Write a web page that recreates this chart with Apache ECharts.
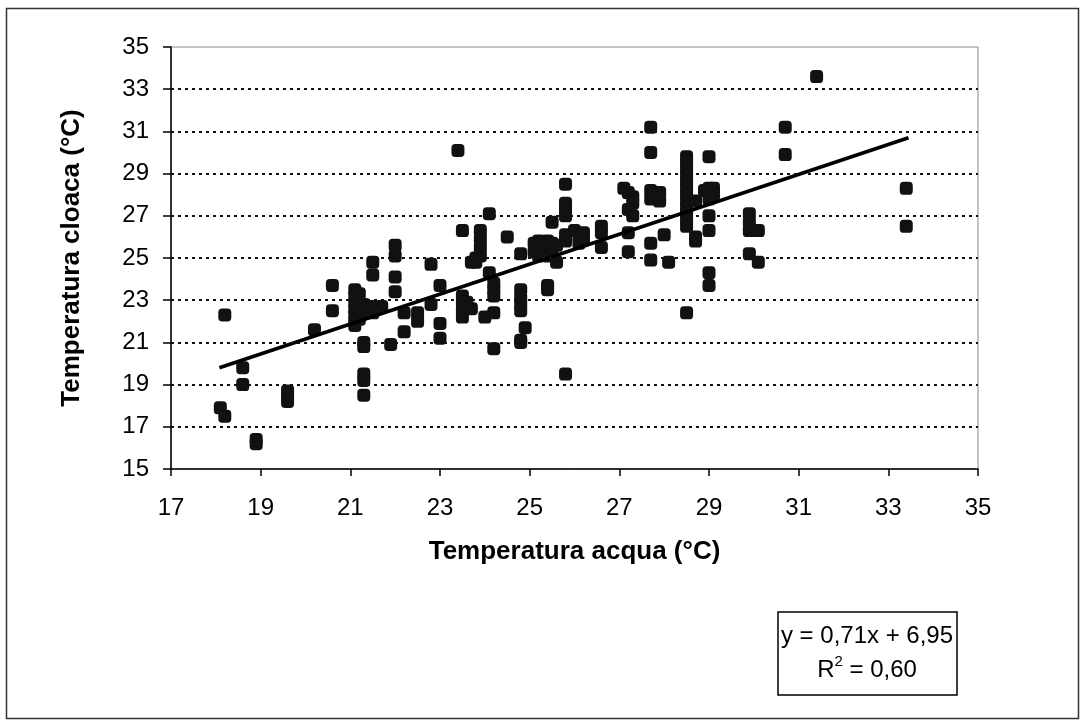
<!DOCTYPE html>
<html>
<head>
<meta charset="utf-8">
<script src="https://cdn.jsdelivr.net/npm/echarts@6/dist/echarts.min.js"></script>
<style>
html,body{margin:0;padding:0;background:#fff;}
#chart{width:1081px;height:720px;}
</style>
</head>
<body>
<div id="chart"></div>
<script>
// Data: [water temp, cloaca temp]
const pointsLow = [
  [18.1,17.9],[18.2,17.5],[18.2,22.3],[18.6,19.8],[18.6,19.0],[18.9,16.4],[18.9,16.2],
  [19.6,18.7],[19.6,18.4],[19.6,18.2],[20.2,21.6],[20.6,23.7],[20.6,22.5],
  [21.1,23.5],[21.1,23.2],[21.1,22.9],[21.1,22.6],[21.1,22.3],[21.1,22.0],[21.1,21.8],
  [21.2,23.3],[21.2,22.1],
  [21.3,21.0],[21.3,20.8],[21.3,19.5],[21.3,19.2],[21.3,18.5],[21.3,22.5],[21.3,22.8],
  [21.5,24.8],[21.5,24.2],[21.5,22.7],[21.5,22.4],[21.7,22.7],[21.9,20.9],
  [22.0,25.6],[22.0,25.1],[22.0,24.1],[22.0,23.4],
  [22.2,22.4],[22.2,21.5],[22.5,22.4],[22.5,22.0],[22.8,24.7],[22.8,22.8],
  [23.0,23.7],[23.0,21.9],[23.0,21.2]
];
const pointsMid = [
  [23.4,30.1],[23.5,26.3],[23.5,23.2],[23.5,22.9],[23.5,22.5],[23.5,22.2],[23.7,22.6],
  [23.7,24.8],[23.6,22.9],
  [23.8,25.0],[23.9,26.3],[23.9,25.9],[23.9,25.5],[23.9,25.1],[23.8,24.8],
  [24.0,22.2],[24.1,27.1],[24.1,24.3],[24.2,23.8],[24.2,23.5],[24.2,23.2],[24.2,22.4],[24.2,20.7],
  [24.5,26.0],
  [24.8,25.2],[24.8,23.5],[24.8,23.1],[24.8,22.8],[24.8,22.5],[24.9,21.7],[24.8,21.1],[24.8,21.0],
  [25.1,25.7],[25.1,25.3],[25.2,25.8],[25.2,25.4],[25.2,25.1],[25.3,25.7],[25.3,25.3],
  [25.4,25.8],[25.4,25.5],[25.4,25.1],[25.5,25.7],[25.5,25.3],[25.6,25.6],[25.6,24.8],
  [25.4,23.7],[25.4,23.5],[25.5,26.7],
  [25.8,28.5],[25.8,27.6],[25.8,27.3],[25.8,27.0],[25.8,26.1],[25.8,25.8],[25.8,19.5],
  [26.0,26.3],[26.1,26.0],[26.1,25.7],[26.2,26.2],[26.2,25.9],
  [26.6,26.5],[26.6,26.2],[26.6,25.5]
];
const pointsHigh = [
  [27.1,28.3],[27.2,28.1],[27.3,27.9],[27.3,27.6],[27.2,27.3],[27.3,27.0],[27.2,26.2],[27.2,25.3],
  [27.7,31.2],[27.7,30.0],[27.7,28.2],[27.7,27.8],[27.9,28.1],[27.9,27.7],[27.7,25.7],[27.7,24.9],
  [28.0,26.1],[28.1,24.8],
  [28.5,29.8],[28.5,29.5],[28.5,29.2],[28.5,28.9],[28.5,28.6],[28.5,28.3],[28.5,28.0],
  [28.5,27.7],[28.5,27.4],[28.5,27.1],[28.5,26.8],[28.5,26.5],[28.5,22.4],
  [28.7,27.7],[28.7,26.0],[28.7,25.8],[28.9,28.2],
  [29.0,29.8],[29.0,28.3],[29.0,27.8],[29.0,27.0],[29.0,26.3],[29.0,24.3],[29.0,23.7],
  [29.1,28.3],[29.1,28.0],
  [29.9,27.1],[29.9,26.7],[29.9,26.3],[30.1,26.3],[29.9,25.2],[30.1,24.8],
  [30.7,31.2],[30.7,29.9],[31.4,33.6],[33.4,28.3],[33.4,26.5]
];
// Trend line end points as drawn in the reference
const trendLine = [[18.08,19.80],[33.45,30.70]];
const xTicks = [17,19,21,23,25,27,29,31,33,35];
const yTicks = [15,17,19,21,23,25,27,29,31,33,35];
const xTitle = 'Temperatura acqua (°C)';
const yTitle = 'Temperatura cloaca (°C)';
const eqLine1 = 'y = 0,71x + 6,95';
const eqR = 'R';
const eqSup = '2';
const eqRest = ' = 0,60';

const allPoints = pointsLow.concat(pointsMid, pointsHigh);
const FONT = '"Liberation Sans", Arial, sans-serif';
const MARK = 'path://M3.6,0 H8.4 A3.6,3.6 0 0 1 12,3.6 V8.4 A3.6,3.6 0 0 1 8.4,12 H3.6 A3.6,3.6 0 0 1 0,8.4 V3.6 A3.6,3.6 0 0 1 3.6,0 Z';
const yMin = yTicks[0], yMax = yTicks[yTicks.length-1];
const gridLineValues = yTicks.slice(1, -1);

const chart = echarts.init(document.getElementById('chart'), null, {renderer:'canvas'});
chart.setOption({
  animation: false,
  backgroundColor: '#fff',
  grid: {left:171, right:103, top:47, bottom:251, show:true, borderColor:'#888', borderWidth:1, backgroundColor:'transparent'},
  xAxis: {
    type:'value', min:xTicks[0], max:xTicks[xTicks.length-1], interval:2,
    name:xTitle, nameLocation:'middle', nameGap:70,
    nameTextStyle:{fontFamily:FONT, fontSize:26, fontWeight:'bold', color:'#000'},
    axisLine:{show:true, onZero:false, lineStyle:{color:'#000', width:1.5}},
    axisTick:{show:true, inside:false, length:7, lineStyle:{color:'#000', width:1.5}},
    axisLabel:{fontFamily:FONT, fontSize:24, color:'#000', margin:27},
    splitLine:{show:false}
  },
  yAxis: {
    type:'value', min:yMin, max:yMax, interval:2,
    name:yTitle, nameLocation:'middle', nameGap:86,
    nameTextStyle:{fontFamily:FONT, fontSize:26, fontWeight:'bold', color:'#000'},
    axisLine:{show:true, onZero:false, lineStyle:{color:'#000', width:1.5}},
    axisTick:{show:true, inside:false, length:8, lineStyle:{color:'#000', width:1.5}},
    axisLabel:{fontFamily:FONT, fontSize:24, color:'#000', margin:22},
    splitLine:{show:false}
  },
  series: [
    {type:'scatter', data: allPoints, symbol:MARK, symbolSize:13,
     itemStyle:{color:'#111', opacity:1}, z:3,
     markLine:{silent:true, symbol:'none', label:{show:false}, animation:false,
       lineStyle:{color:'#111', width:2, type:[3,4]},
       emphasis:{disabled:true},
       data: gridLineValues.map(v => ({yAxis:v}))}},
    {type:'line', data: trendLine, showSymbol:false, symbol:'none',
     lineStyle:{color:'#000', width:3.5}, z:4}
  ],
  graphic: [
    {type:'rect', left:4, top:6, shape:{x:0,y:0,width:1072,height:710},
     style:{fill:'none', stroke:'#333', lineWidth:1.5}, silent:true, z:-1},
    {type:'rect', shape:{x:778, y:612, width:179, height:83},
     style:{fill:'#fff', stroke:'#000', lineWidth:1.5}, z:10},
    {type:'text', x:867, y:636, style:{text:eqLine1, fontFamily:FONT, fontSize:24, fill:'#000', align:'center', verticalAlign:'middle'}, z:11},
    {type:'text', x:867, y:668, style:{
      text:'{r|' + eqR + '}{s|' + eqSup + '}{r|' + eqRest + '}',
      align:'center', verticalAlign:'middle',
      rich:{
        r:{fontFamily:FONT, fontSize:24, fill:'#000', color:'#000', verticalAlign:'bottom', lineHeight:28},
        s:{fontFamily:FONT, fontSize:15, fill:'#000', color:'#000', verticalAlign:'top', lineHeight:28}
      }}, z:11}
  ]
});
</script>
</body>
</html>
